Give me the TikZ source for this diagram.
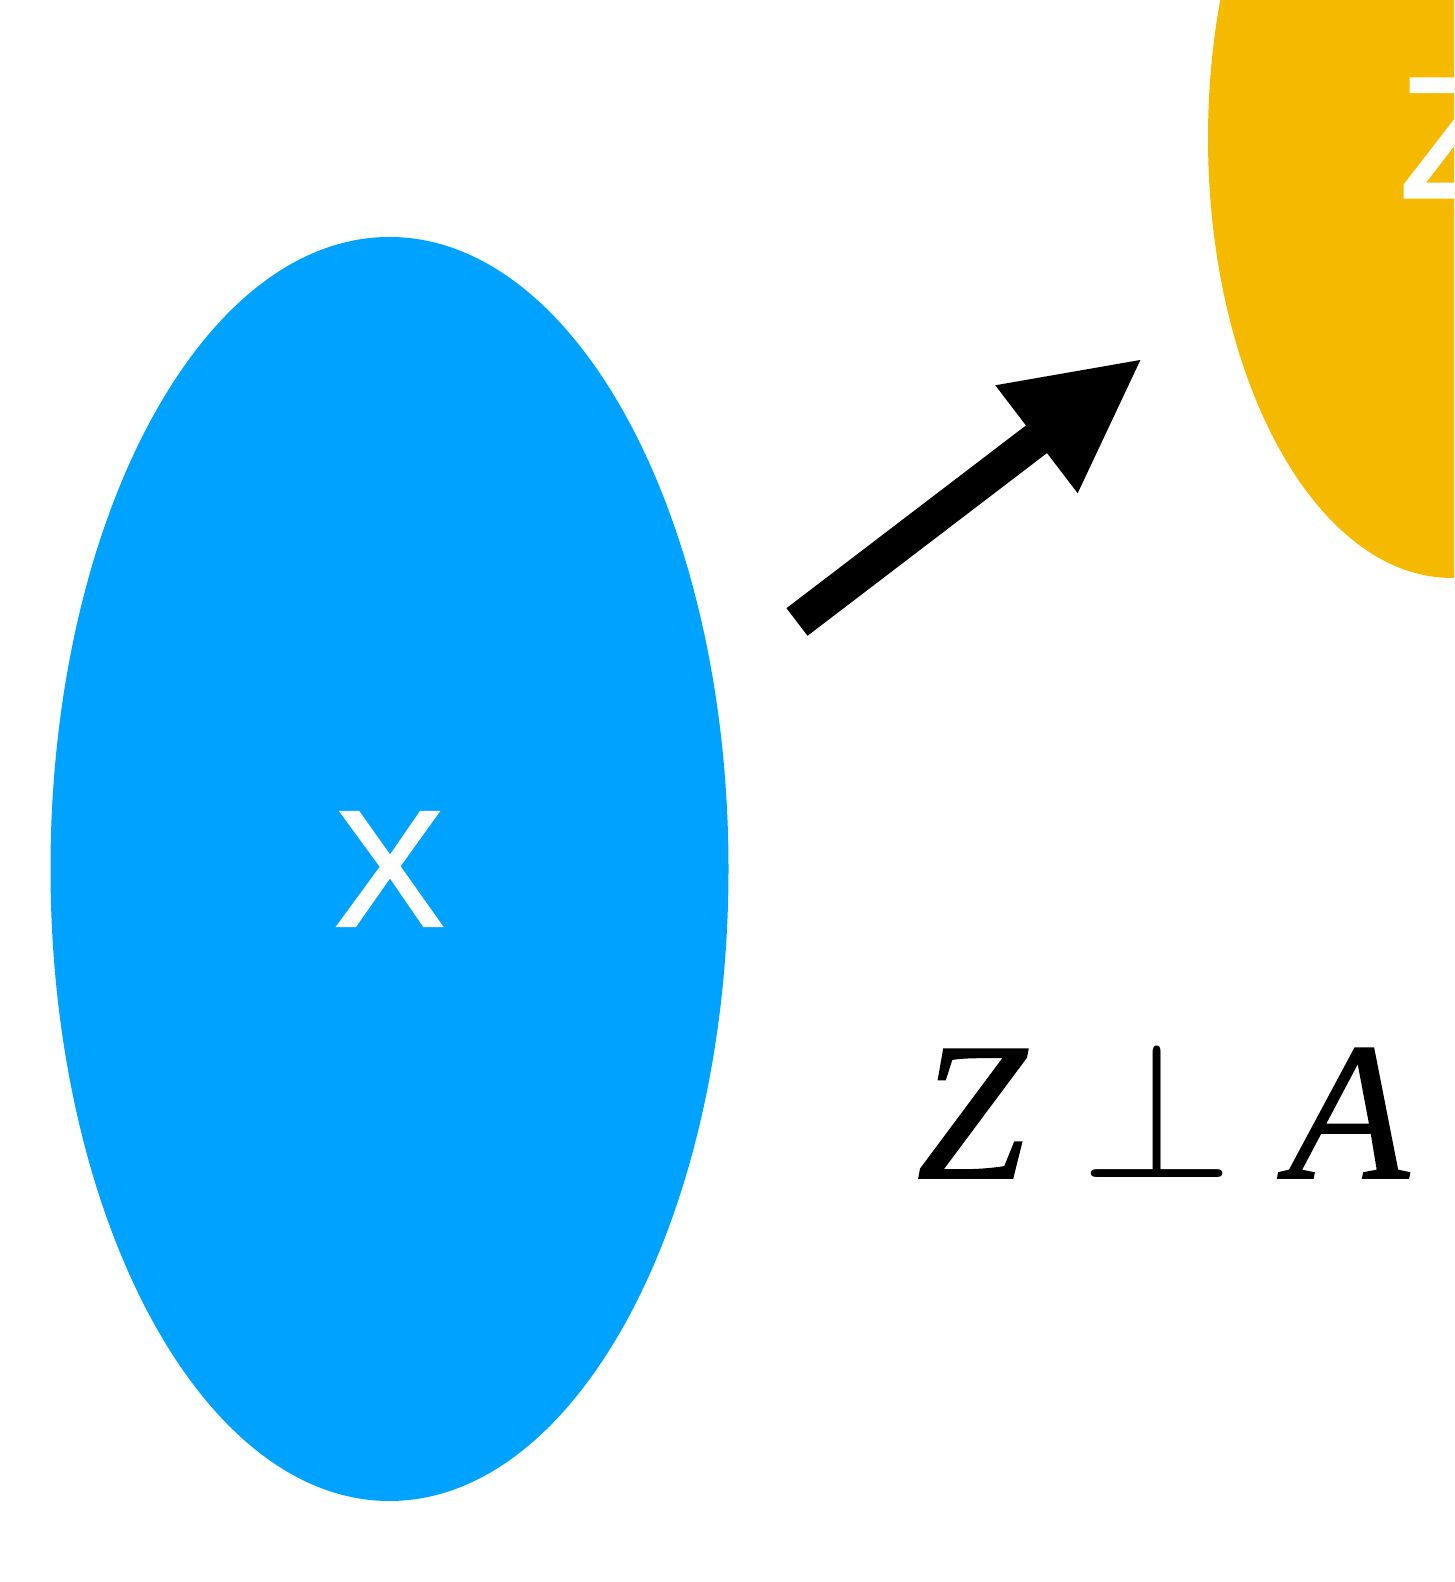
\documentclass[tikz,border=0pt]{standalone}
\usepackage{fix-cm}
\usepackage{fontspec}
\usepackage{tikz}
\usetikzlibrary{positioning,arrows.meta,shapes.geometric}
\newfontfamily\labelfont[FakeBold=1.6]{Liberation Sans}
\newfontfamily\eqfont[FakeBold=0.8]{Liberation Serif}
\definecolor{blobblue}{RGB}{0,162,255}
\definecolor{blobyellow}{RGB}{245,185,0}

\begin{document}
\begin{tikzpicture}[
  blob/.style={ellipse,inner sep=0pt,text=white,font=\labelfont\fontsize{47}{50}\selectfont},
  ]
\useasboundingbox (0,0) rectangle (14.54,15.82);
\clip (0,0) rectangle (14.54,15.82);
\node[blob,fill=blobblue,minimum width=6.78cm,minimum height=12.64cm] (x) at (3.895,7.13) {X};
\node[blob,fill=blobyellow,minimum width=4.88cm,minimum height=8.80cm,font=\labelfont\fontsize{49}{52}\selectfont] (z) at (14.52,14.44) {Z};
\coordinate (from) at (7.97,9.60);
\coordinate (to) at (11.43,12.24);
\draw[line width=0.347cm,-{Triangle[length=1.34cm,width=1.25cm]}] (from) -- (to);
\node[anchor=base west,inner sep=0pt,font=\eqfont\fontsize{56}{60}\selectfont] (indep) at (9.16,4.04) {\itshape Z$\;\perp\;$A};
\end{tikzpicture}
\end{document}
